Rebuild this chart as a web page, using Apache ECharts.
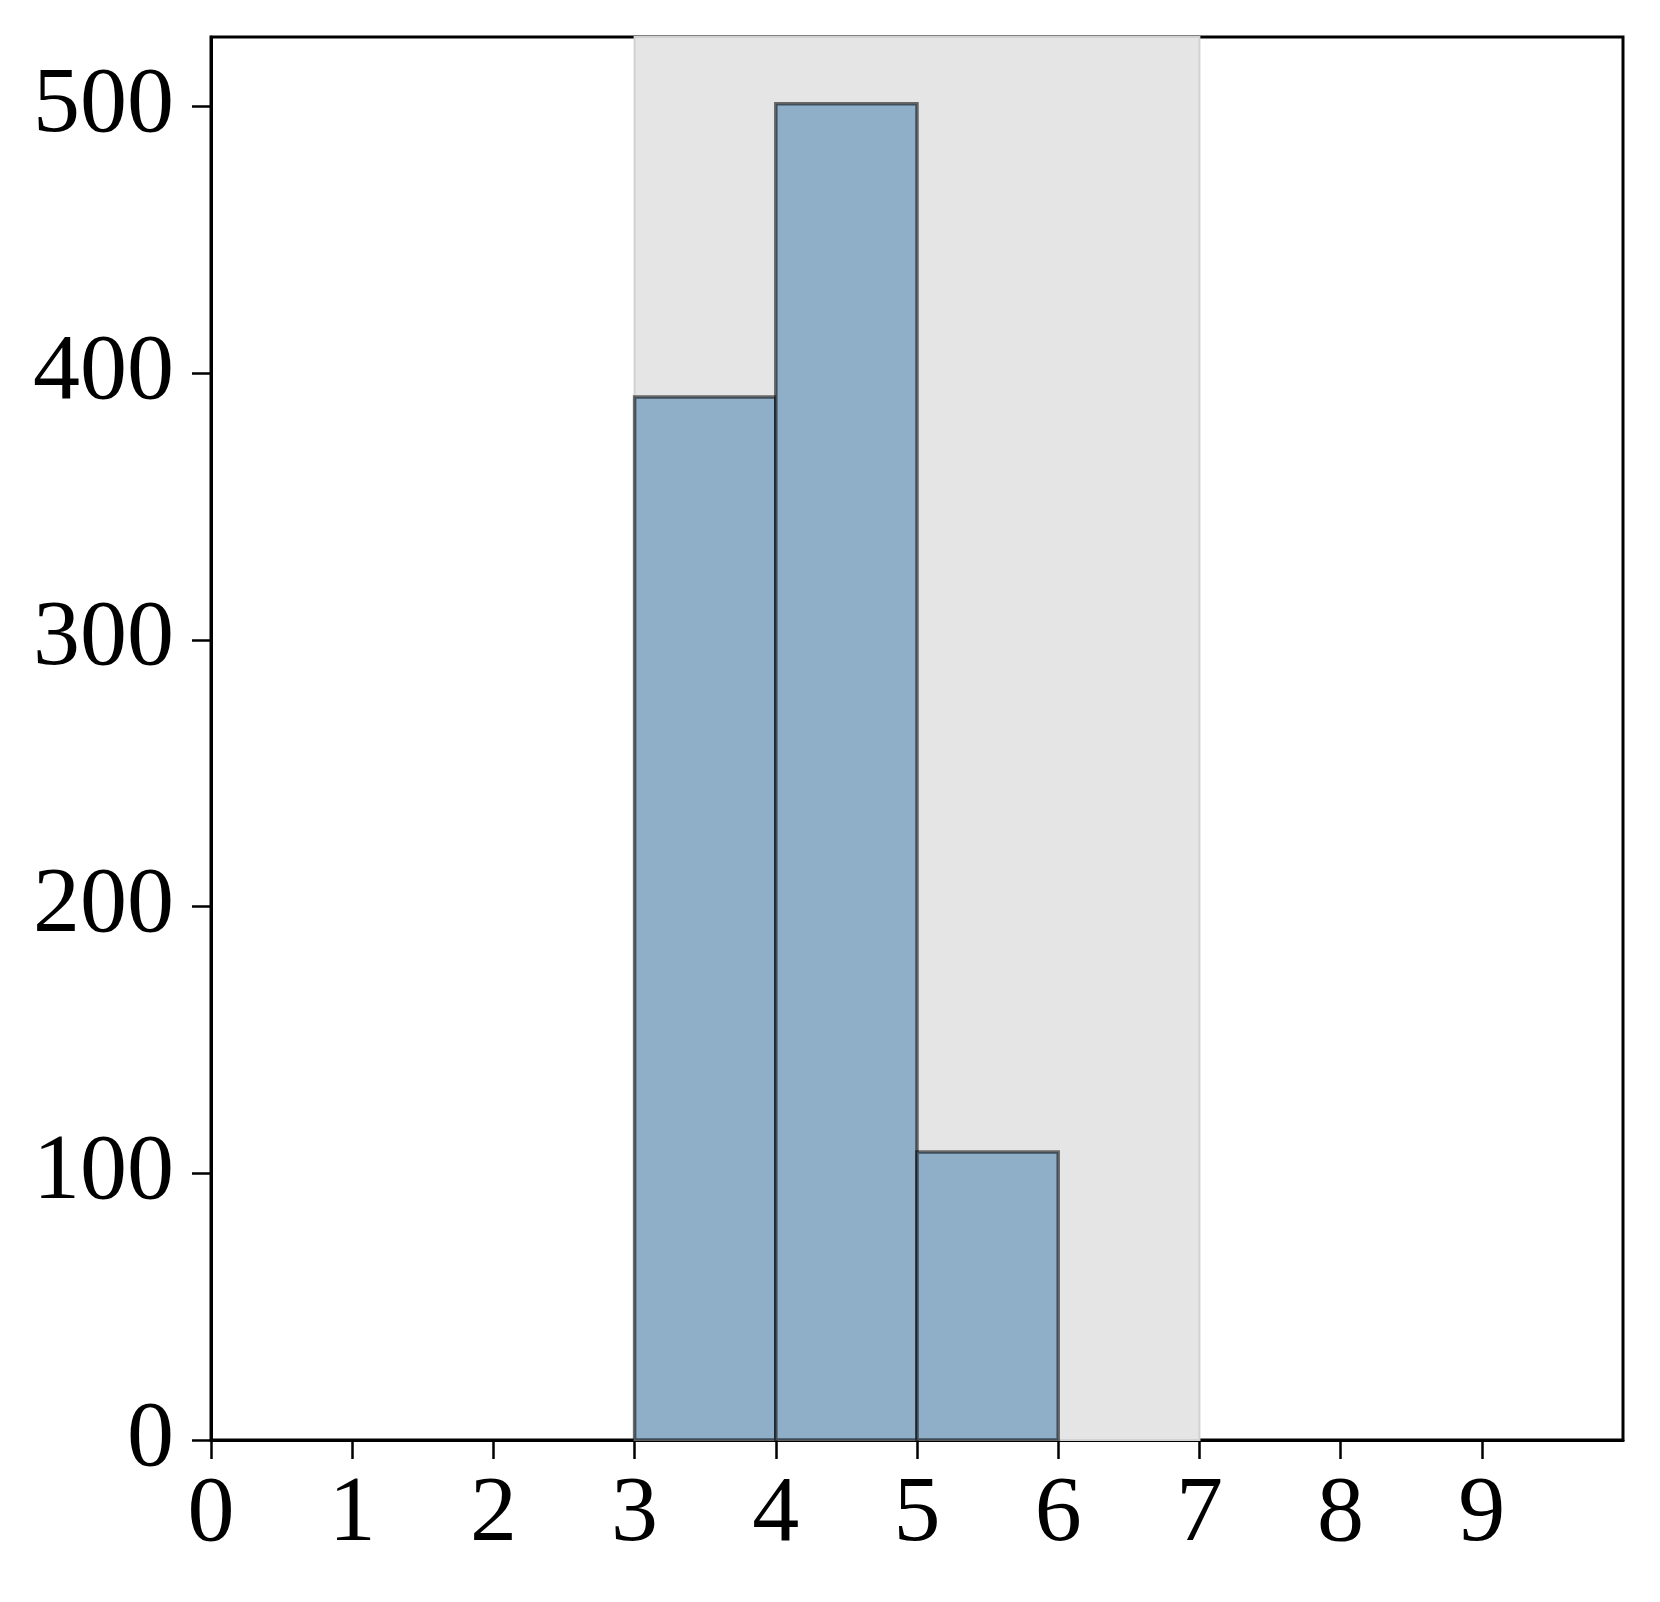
<!DOCTYPE html>
<html>
<head>
<meta charset="utf-8">
<script src="https://cdn.jsdelivr.net/npm/echarts@6/dist/echarts.min.js"></script>
<style>
  html, body { margin: 0; padding: 0; background: #fff; }
  #main { width: 1660px; height: 1602px; }
</style>
</head>
<body>
<div id="main"></div>
<script>
// histogram bins: left edge, width 1
const binStarts = [3, 4, 5];
const counts = [391, 501, 108];
const xTicks = [0, 1, 2, 3, 4, 5, 6, 7, 8, 9];
const yTicks = [0, 100, 200, 300, 400, 500];
const shadeRange = [3, 7];

const font = 'Liberation Serif';

const chart = echarts.init(document.getElementById('main'));

const option = {
  animation: false,
  backgroundColor: '#fff',
  grid: {
    left: 211, right: 37, top: 37, bottom: 162,
    show: true,
    borderColor: '#000',
    borderWidth: 3,
    backgroundColor: 'transparent'
  },
  xAxis: {
    type: 'value',
    min: 0,
    max: 10,
    interval: 1,
    splitLine: { show: false },
    axisLine: { show: true, onZero: false, lineStyle: { color: '#000', width: 3 } },
    axisTick: { show: true, length: 19, lineStyle: { color: '#000', width: 2.5 }, customValues: xTicks },
    axisLabel: {
      customValues: xTicks,
      margin: 28,
      color: '#000',
      fontFamily: font,
      fontSize: 94
    }
  },
  yAxis: {
    type: 'value',
    min: 0,
    max: 526,
    interval: 100,
    splitLine: { show: false },
    axisLine: { show: true, lineStyle: { color: '#000', width: 3 } },
    axisTick: { show: true, length: 19, lineStyle: { color: '#000', width: 2.5 }, customValues: yTicks },
    axisLabel: {
      customValues: yTicks,
      margin: 37,
      color: '#000',
      fontFamily: font,
      fontSize: 94
    }
  },
  series: [
    {
      // shaded band behind the bars
      type: 'line',
      data: [],
      z: 1,
      markArea: {
        silent: true,
        itemStyle: { color: '#e5e5e5', borderColor: '#d2d2d2', borderWidth: 2 },
        data: [[{ xAxis: shadeRange[0] }, { xAxis: shadeRange[1] }]]
      }
    },
    {
      type: 'custom',
      z: 3,
      data: binStarts.map((b, i) => [b, b + 1, counts[i]]),
      renderItem: function (params, api) {
        const p0 = api.coord([api.value(0), 0]);
        const p1 = api.coord([api.value(1), api.value(2)]);
        return {
          type: 'rect',
          shape: { x: p0[0], y: p1[1], width: p1[0] - p0[0], height: p0[1] - p1[1] },
          style: {
            fill: '#8faec8',
            stroke: 'rgba(0,0,0,0.55)',
            lineWidth: 3.5
          }
        };
      }
    }
  ]
};

chart.setOption(option);
</script>
</body>
</html>
